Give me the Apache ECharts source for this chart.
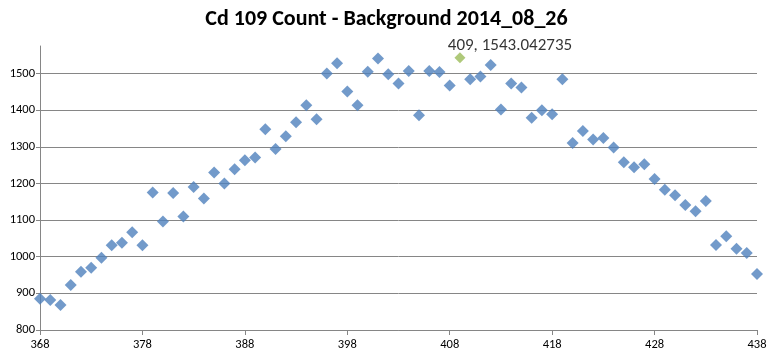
<!DOCTYPE html>
<html><head><meta charset="utf-8">
<script src="https://cdn.jsdelivr.net/npm/echarts@6/dist/echarts.min.js"></script>
<style>html,body{margin:0;padding:0;background:#fff}#c{width:773px;height:361px}</style>
</head><body><div id="c"></div>
<script>
const xValues = [368,369,370,371,372,373,374,375,376,377,378,379,380,381,382,383,384,385,386,387,388,389,390,391,392,393,394,395,396,397,398,399,400,401,402,403,404,405,406,407,408,409,410,411,412,413,414,415,416,417,418,419,420,421,422,423,424,425,426,427,428,429,430,431,432,433,434,435,436,437,438];
const counts = [885,882,868,923,959,970,997,1031,1038,1067,1031,1175,1096,1174,1110,1190,1159,1230,1200,1239,1263,1271,1348,1294,1329,1367,1413,1375,1500,1528,1451,1413,1505,1541,1498,1473,1507,1386,1507,1504,1467,1543.042735,1484,1492,1523,1402,1473,1462,1379,1400,1389,1484,1310,1343,1320,1324,1298,1258,1244,1252,1212,1183,1168,1141,1124,1152,1032,1056,1022,1010,953];
const highlightX = 409;
const highlightY = 1543.042735;
const titleText = 'Cd 109 Count - Background 2014_08_26';

const FONT = 'Carlito, Lato, "Open Sans", sans-serif';
const mainData = [];
xValues.forEach((x, i) => { if (x !== highlightX) mainData.push([x, counts[i]]); });

const chart = echarts.init(document.getElementById('c'), null, {renderer: 'canvas'});
chart.setOption({
  animation: false,
  title: {
    text: titleText, left: 'center', top: 3,
    textStyle: {fontFamily: FONT, fontWeight: 'bold', fontSize: 22, color: '#000'}
  },
  grid: {left: 40, right: 16, top: 46, bottom: 31},
  xAxis: {
    type: 'value', min: 368, max: 438, interval: 10,
    axisLine: {show: true, onZero: false, lineStyle: {color: '#868686'}},
    axisTick: {show: true, length: 5, lineStyle: {color: '#868686'}},
    axisLabel: {fontFamily: FONT, fontSize: 12.5, color: '#000', margin: 8},
    splitLine: {show: false}
  },
  yAxis: {
    type: 'value', min: 800, max: 1575, interval: 100,
    axisLine: {show: true, lineStyle: {color: '#868686'}},
    axisTick: {show: true, length: 4, lineStyle: {color: '#868686'}},
    axisLabel: {fontFamily: FONT, fontSize: 12.5, color: '#000', margin: 5, showMaxLabel: false,
      formatter: v => (v % 100 === 0 ? String(v) : '')},
    splitLine: {show: true, showMaxLine: false, lineStyle: {color: '#868686', width: 1}}
  },
  series: [
    {
      type: 'scatter', data: mainData, symbol: 'diamond', symbolSize: 12,
      itemStyle: {color: '#4F81BD'}
    },
    {
      type: 'scatter', data: [[highlightX, highlightY]], symbol: 'diamond', symbolSize: 11,
      itemStyle: {color: '#9BBB59'},
      label: {
        show: true, position: 'top', offset: [50, 7],
        formatter: highlightX + ', ' + highlightY,
        fontFamily: FONT, fontSize: 17, color: '#000', textBorderWidth: 0
      }
    }
  ]
});
</script></body></html>
